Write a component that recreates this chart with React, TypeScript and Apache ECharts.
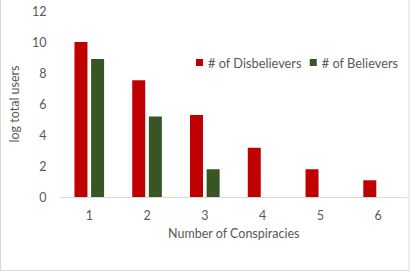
import React, { useEffect, useRef } from "react";
import * as echarts from "echarts";

const categories = ["1", "2", "3", "4", "5", "6"];
const disbelievers = [10.0, 7.53, 5.29, 3.18, 1.79, 1.08];
const believers: (number | null)[] = [8.9, 5.2, 1.79, null, null, null];
const yTicks = { min: 0, max: 12, interval: 2 };

const FONT = "Lato, 'Liberation Sans', sans-serif";
const TEXT = "#595959";

export default function App() {
  const ref = useRef<HTMLDivElement>(null);
  useEffect(() => {
    document.body.style.margin = "0";
    const chart = echarts.init(ref.current!, undefined, { renderer: "svg" });
    chart.setOption({
      animation: false,
      textStyle: { fontFamily: FONT },
      graphic: [
        {
          type: "rect",
          shape: { x: 0.5, y: -1, width: 408.5, height: 271.5 },
          style: { fill: "none", stroke: "#D9D9D9", lineWidth: 1 },
          silent: true,
        },
      ],
      grid: { left: 53, right: 8, top: 11, bottom: 76 },
      legend: {
        left: 196,
        top: 56,
        width: 218,
        padding: 0,
        itemWidth: 7,
        itemHeight: 7,
        itemGap: 8,
        icon: "rect",
        textStyle: { color: TEXT, fontSize: 12.8, fontFamily: FONT },
        data: ["# of Disbelievers", "# of Believers"],
      },
      xAxis: {
        type: "category",
        data: categories,
        axisLine: { lineStyle: { color: "#D9D9D9" } },
        axisTick: { show: false },
        axisLabel: { color: TEXT, fontSize: 12.5, margin: 12 },
        name: "Number of Conspiracies",
        nameLocation: "middle",
        nameGap: 29,
        nameTextStyle: { color: TEXT, fontSize: 12.5 },
      },
      yAxis: {
        type: "value",
        min: yTicks.min,
        max: yTicks.max,
        interval: yTicks.interval,
        splitLine: { show: false },
        axisLine: { show: false },
        axisTick: { show: false },
        axisLabel: { color: TEXT, fontSize: 12.5, margin: 14 },
        name: "log total users",
        nameLocation: "middle",
        nameGap: 30,
        nameTextStyle: { color: TEXT, fontSize: 12.5 },
      },
      series: [
        {
          name: "# of Disbelievers",
          type: "bar",
          data: disbelievers,
          barWidth: 13,
          barGap: "28%",
          itemStyle: { color: "#C00000" },
        },
        {
          name: "# of Believers",
          type: "bar",
          data: believers,
          barWidth: 13,
          barGap: "28%",
          itemStyle: { color: "#375623" },
        },
      ],
    });
    return () => chart.dispose();
  }, []);
  return <div ref={ref} style={{ width: 415, height: 273 }} />;
}
